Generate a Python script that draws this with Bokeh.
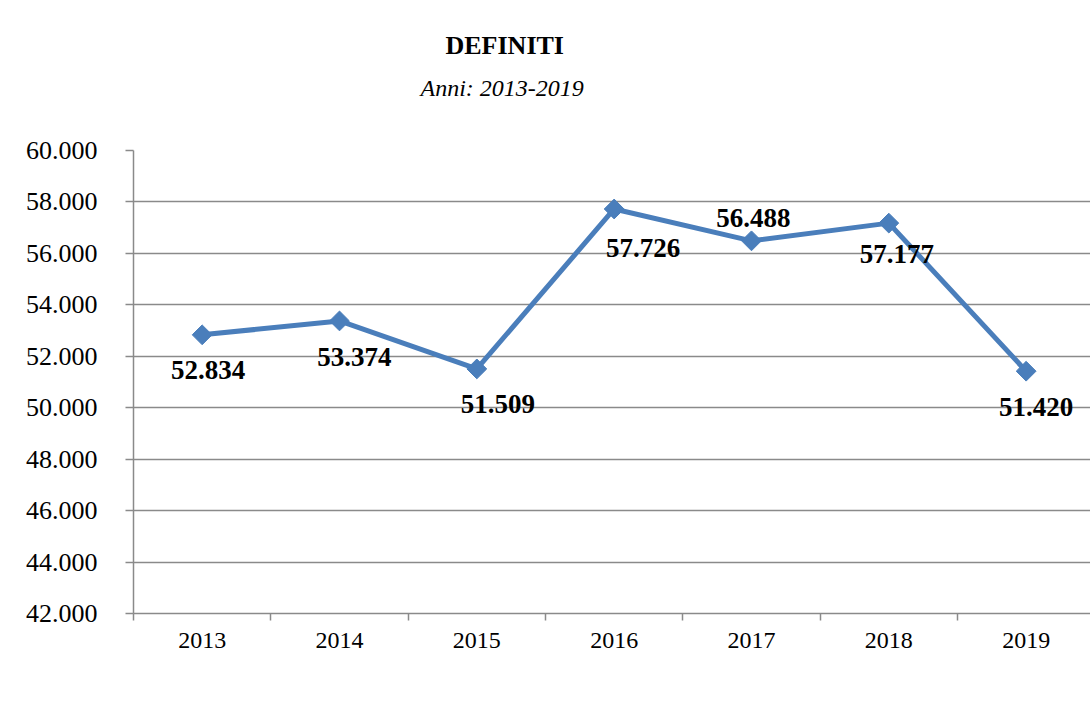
from bokeh.plotting import figure
from bokeh.models import (Range1d, FixedTicker, ColumnDataSource, LabelSet, Title)
from bokeh.core.properties import value
from bokeh.embed import file_html
from bokeh.resources import INLINE
import math

# ---- data ----
years = ["2013", "2014", "2015", "2016", "2017", "2018", "2019"]
definiti = [52834, 53374, 51509, 57726, 56488, 57177, 51420]
value_labels = ["52.834", "53.374", "51.509", "57.726", "56.488", "57.177", "51.420"]
y_ticks = [42000, 44000, 46000, 48000, 50000, 52000, 54000, 56000, 58000, 60000]
y_tick_labels = ["42.000", "44.000", "46.000", "48.000", "50.000", "52.000",
                 "54.000", "56.000", "58.000", "60.000"]
title_text = "DEFINITI"
subtitle_text = "Anni: 2013-2019"

# label placement (style)
label_dx = [6, 15, 21, 29, 2, 8, 10]
label_dy = [-35, -36, -35, -39, 23, -31, -36]

FONT = "Liberation Serif"
BLUE = "#4a7ebb"
GRID = "#8a8a8a"

W, H = 1090, 724
LEFT, TOP = 133, 150
FRAME_BOTTOM = 613
BOTTOM = H - FRAME_BOTTOM
cat_px = 137.33
frame_w = W - LEFT
x_end = frame_w / cat_px

xs = [i + 0.5 for i in range(len(years))]

p = figure(width=W, height=H, output_backend="svg", toolbar_location=None,
           x_range=Range1d(0, x_end), y_range=Range1d(42000, 60000),
           min_border_left=LEFT, min_border_top=TOP, min_border_bottom=BOTTOM,
           min_border_right=0)
p.outline_line_color = None
p.background_fill_color = "white"
p.border_fill_color = "white"

# x axis
xt = FixedTicker(ticks=xs, minor_ticks=list(range(len(years) + 1)))
p.xaxis.ticker = xt
p.xaxis.major_label_overrides = {x: y for x, y in zip(xs, years)}
p.xaxis.major_tick_out = 0
p.xaxis.major_tick_in = 0
p.xaxis.minor_tick_out = 7
p.xaxis.minor_tick_in = 0
p.xaxis.minor_tick_line_color = GRID
p.xaxis.minor_tick_line_width = 1.5
p.xaxis.axis_line_color = GRID
p.xaxis.axis_line_width = 1.5
p.xaxis.major_label_text_font = FONT
p.xaxis.major_label_text_font_size = "24px"
p.xaxis.major_label_text_color = "black"
p.xaxis.major_label_standoff = 12
p.xgrid.visible = False

# y axis
yt = FixedTicker(ticks=y_ticks)
p.yaxis.ticker = yt
p.yaxis.major_label_overrides = {t: l for t, l in zip(y_ticks, y_tick_labels)}
p.yaxis.major_tick_out = 8
p.yaxis.major_tick_in = 0
p.yaxis.major_tick_line_color = GRID
p.yaxis.major_tick_line_width = 1.5
p.yaxis.minor_tick_line_color = None
p.yaxis.axis_line_color = GRID
p.yaxis.axis_line_width = 1.5
p.yaxis.major_label_text_font = FONT
p.yaxis.major_label_text_font_size = "26px"
p.yaxis.major_label_text_color = "black"
p.yaxis.major_label_standoff = 28
p.ygrid.ticker = yt
p.ygrid.grid_line_color = GRID
p.ygrid.grid_line_width = 1.5

src = ColumnDataSource(dict(x=xs, y=definiti, lab=value_labels,
                            dx=label_dx, dy=label_dy))
p.line("x", "y", source=src, line_color=BLUE, line_width=5)
p.scatter("x", "y", source=src, marker="square", size=14, angle=math.pi / 4,
          fill_color=BLUE, line_color=BLUE)

labels = LabelSet(x="x", y="y", text="lab", source=src, x_offset="dx", y_offset="dy",
                  text_align="center", text_baseline="middle",
                  text_font=value(FONT), text_font_size="27px",
                  text_font_style="bold", text_color="black")
p.add_layout(labels)

# titles stacked above the frame: spacer (nearest), subtitle, title
p.add_layout(Title(text=" ", text_font_size="1px", standoff=47), "above")
p.add_layout(Title(text=subtitle_text, text_font=FONT, text_font_size="24px",
                   text_font_style="italic", text_color="black",
                   align="left", offset=420 - LEFT, standoff=0), "above")
p.add_layout(Title(text=title_text, text_font=FONT, text_font_size="26px",
                   text_font_style="bold", text_color="black",
                   align="left", offset=445 - LEFT, standoff=26), "above")

open("out.html", "w").write(file_html(p, INLINE))
